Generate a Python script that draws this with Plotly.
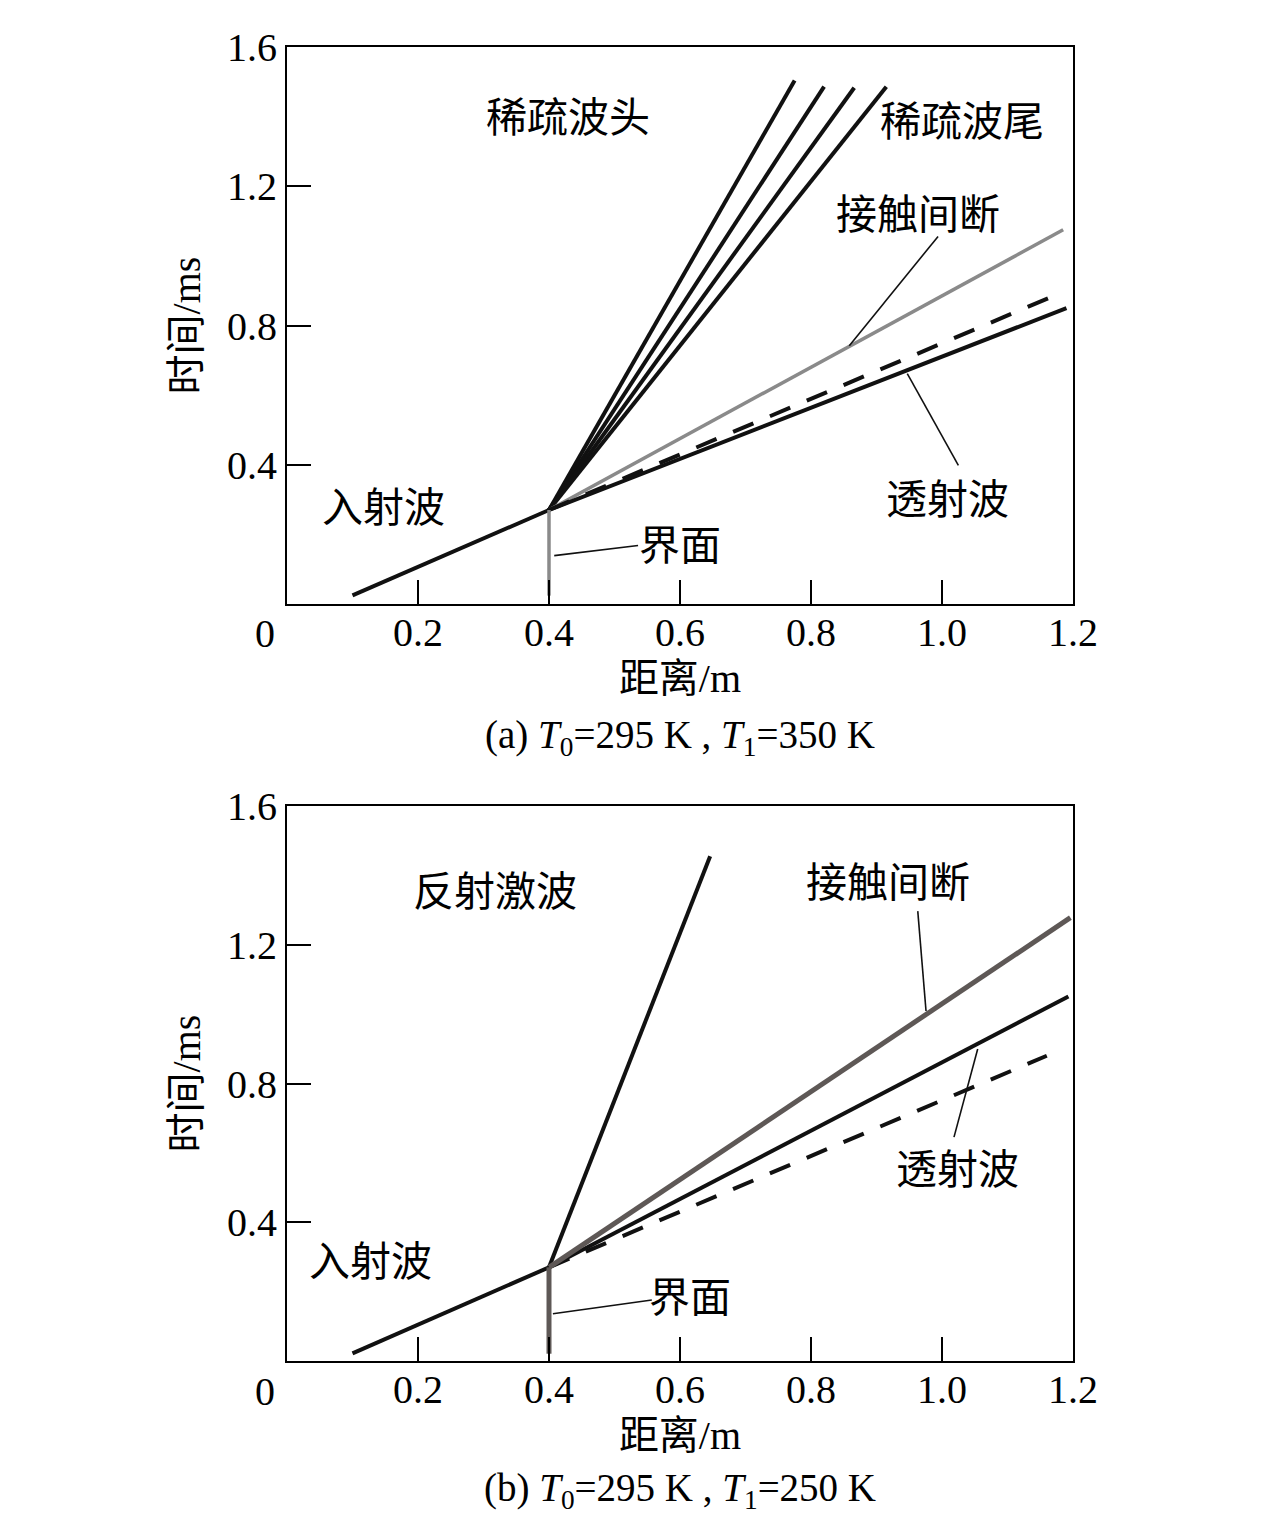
import plotly.graph_objects as go

# ---------------- data: panel (a) T0=295 K, T1=350 K ----------------
a_incident_x = [0.10, 0.40]
a_incident_t = [0.025, 0.27]
a_interface_x = [0.40, 0.40]
a_interface_t = [0.024, 0.27]
a_origin = (0.40, 0.27)
a_fan_end_x = [0.775, 0.820, 0.866, 0.915]
a_fan_end_t = [1.504, 1.486, 1.483, 1.486]
a_contact_x = [0.40, 1.185]
a_contact_t = [0.27, 1.075]
a_dashed_x = [0.40, 1.178]
a_dashed_t = [0.27, 0.891]
a_trans_x = [0.40, 1.190]
a_trans_t = [0.27, 0.850]
a_leader_contact_x = [0.994, 0.8585]
a_leader_contact_t = [1.056, 0.742]
a_leader_trans_x = [0.947, 1.025]
a_leader_trans_t = [0.662, 0.398]
a_leader_iface_x = [0.408, 0.536]
a_leader_iface_t = [0.139, 0.168]
a_labels = ["稀疏波头", "稀疏波尾", "接触间断", "透射波", "入射波", "界面"]
a_label_x = [0.429, 1.030, 0.963, 1.009, 0.148, 0.600]
a_label_t = [1.395, 1.384, 1.117, 0.298, 0.276, 0.166]

# ---------------- data: panel (b) T0=295 K, T1=250 K ----------------
b_incident_x = [0.10, 0.40]
b_incident_t = [0.022, 0.27]
b_interface_x = [0.40, 0.40]
b_interface_t = [0.021, 0.27]
b_shock_x = [0.40, 0.646]
b_shock_t = [0.27, 1.455]
b_contact_x = [0.40, 1.196]
b_contact_t = [0.27, 1.278]
b_trans_x = [0.40, 1.193]
b_trans_t = [0.27, 1.051]
b_dashed_x = [0.40, 1.160]
b_dashed_t = [0.27, 0.880]
b_leader_contact_x = [0.963, 0.9756]
b_leader_contact_t = [1.297, 1.009]
b_leader_trans_x = [1.0545, 1.0183]
b_leader_trans_t = [0.8997, 0.6454]
b_leader_iface_x = [0.406, 0.557]
b_leader_iface_t = [0.136, 0.176]
b_labels = ["反射激波", "接触间断", "透射波", "入射波", "界面"]
b_label_x = [0.318, 0.918, 1.023, 0.127, 0.615]
b_label_t = [1.352, 1.378, 0.551, 0.285, 0.182]

x_ticks = [0.2, 0.4, 0.6, 0.8, 1.0, 1.2]
x_ticktext = ["0.2", "0.4", "0.6", "0.8", "1.0", "1.2"]
y_ticks = [0.4, 0.8, 1.2, 1.6]
y_ticktext = ["0.4", "0.8", "1.2", "1.6"]
captions = ["(a) <i>T</i><sub>0</sub>=295 K , <i>T</i><sub>1</sub>=350 K",
            "(b) <i>T</i><sub>0</sub>=295 K , <i>T</i><sub>1</sub>=250 K"]

FONT = "Liberation Serif, Noto Sans CJK SC"
BLACK = "#111111"
W, H, OFF = 1276, 1521, 8  # page body margin offset


def px_x(p):
    return (p - OFF) / W


def px_y(p):
    return 1 - (p - OFF) / H


fig = go.Figure()


def line(x, y, color, width, xa, ya, dash=None):
    fig.add_trace(go.Scatter(x=x, y=y, mode="lines", xaxis=xa, yaxis=ya,
                             line=dict(color=color, width=width, dash=dash),
                             showlegend=False, hoverinfo="skip"))


# panel (a)
for ex, et in zip(a_fan_end_x, a_fan_end_t):
    line([a_origin[0], ex], [a_origin[1], et], BLACK, 4, "x", "y")
line(a_contact_x, a_contact_t, "#8a8a8a", 3.5, "x", "y")
line(a_dashed_x, a_dashed_t, BLACK, 4, "x", "y", dash="22px,18px")
line(a_trans_x, a_trans_t, BLACK, 4, "x", "y")
line(a_incident_x, a_incident_t, BLACK, 4, "x", "y")
line(a_interface_x, a_interface_t, "#8a8a8a", 3.5, "x", "y")
line(a_leader_contact_x, a_leader_contact_t, BLACK, 1.6, "x", "y")
line(a_leader_trans_x, a_leader_trans_t, BLACK, 1.6, "x", "y")
line(a_leader_iface_x, a_leader_iface_t, BLACK, 1.6, "x", "y")

# panel (b)
line(b_shock_x, b_shock_t, BLACK, 4, "x2", "y2")
line(b_dashed_x, b_dashed_t, BLACK, 4, "x2", "y2", dash="22px,18px")
line(b_trans_x, b_trans_t, BLACK, 4, "x2", "y2")
line(b_contact_x, b_contact_t, "#5e5856", 5, "x2", "y2")
line(b_incident_x, b_incident_t, BLACK, 4, "x2", "y2")
line(b_interface_x, b_interface_t, "#5e5856", 5, "x2", "y2")
line(b_leader_contact_x, b_leader_contact_t, BLACK, 1.6, "x2", "y2")
line(b_leader_trans_x, b_leader_trans_t, BLACK, 1.6, "x2", "y2")
line(b_leader_iface_x, b_leader_iface_t, BLACK, 1.6, "x2", "y2")

annotations = []
for txt, x, y in zip(a_labels, a_label_x, a_label_t):
    annotations.append(dict(text=txt, x=x, y=y, xref="x", yref="y", showarrow=False,
                            xanchor="center", yanchor="middle",
                            font=dict(family=FONT, size=41, color="black")))
for txt, x, y in zip(b_labels, b_label_x, b_label_t):
    annotations.append(dict(text=txt, x=x, y=y, xref="x2", yref="y2", showarrow=False,
                            xanchor="center", yanchor="middle",
                            font=dict(family=FONT, size=41, color="black")))
# origin "0" labels and captions
for yy in [634, 1391]:
    annotations.append(dict(text="0", x=px_x(265), y=px_y(yy), xref="paper", yref="paper",
                            xanchor="center", yanchor="middle",
                            showarrow=False, font=dict(family=FONT, size=40, color="black")))
for cap, yy in zip(captions, [738, 1490]):
    annotations.append(dict(text=cap, x=px_x(680), y=px_y(yy), xref="paper", yref="paper",
                            xanchor="center", yanchor="middle",
                            showarrow=False, font=dict(family=FONT, size=39, color="black")))

xdom = [px_x(287), px_x(1073)]
axis_common = dict(showline=True, linecolor="black", linewidth=2, mirror=True,
                   ticks="inside", ticklen=24, tickwidth=2, tickcolor="black",
                   showgrid=False, zeroline=False, automargin=False,
                   tickfont=dict(family=FONT, size=40, color="black"))
xtitle = dict(text="距离/m", standoff=10, font=dict(family=FONT, size=40, color="black"))
ytitle = dict(text="时间/ms", standoff=14, font=dict(family=FONT, size=40, color="black"))

fig.update_layout(
    template="none",
    width=W, height=H, autosize=False,
    margin=dict(l=0, r=0, t=0, b=0, pad=0),
    paper_bgcolor="white", plot_bgcolor="white",
    xaxis=dict(domain=xdom, range=[0, 1.2], anchor="y", tickvals=x_ticks, ticktext=x_ticktext,
               ticklabelstandoff=-8, title=xtitle, **axis_common),
    yaxis=dict(domain=[px_y(604), px_y(47)], range=[0, 1.6], anchor="x",
               tickvals=y_ticks, ticktext=y_ticktext, title=ytitle, **axis_common),
    xaxis2=dict(domain=xdom, range=[0, 1.2], anchor="y2", tickvals=x_ticks, ticktext=x_ticktext,
                ticklabelstandoff=-8, title=xtitle, **axis_common),
    yaxis2=dict(domain=[px_y(1361), px_y(806)], range=[0, 1.6], anchor="x2",
                tickvals=y_ticks, ticktext=y_ticktext, title=ytitle, **axis_common),
    annotations=annotations,
)

fig.write_html("out.html")
